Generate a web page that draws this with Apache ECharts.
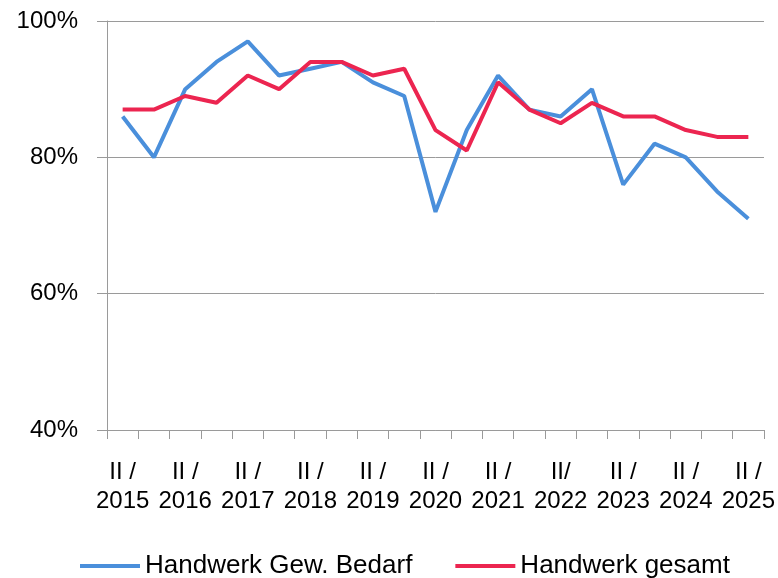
<!DOCTYPE html>
<html>
<head>
<meta charset="utf-8">
<script src="https://cdn.jsdelivr.net/npm/echarts@6/dist/echarts.min.js"></script>
<style>
  html, body { margin: 0; padding: 0; background: #fff; }
  #chart { width: 778px; height: 578px; }
</style>
</head>
<body>
<div id="chart"></div>
<script>
// Halbjahre II/2015 .. II/2025 (jeweils I und II)
var categories = [
    'II /\n2015', 'I /\n2016', 'II /\n2016', 'I /\n2017', 'II /\n2017',
    'I /\n2018', 'II /\n2018', 'I /\n2019', 'II /\n2019', 'I /\n2020',
    'II /\n2020', 'I /\n2021', 'II /\n2021', 'I /\n2022', 'II/\n2022',
    'I /\n2023', 'II /\n2023', 'I /\n2024', 'II /\n2024', 'I /\n2025',
    'II /\n2025'
];
var gewBedarf = [86, 80, 90, 94, 97, 92, 93, 94, 91, 89, 72, 84, 92, 87, 86, 90, 76, 82, 80, 75, 71];
var gesamt    = [87, 87, 89, 88, 92, 90, 94, 94, 92, 93, 84, 81, 91, 87, 85, 88, 86, 86, 84, 83, 83];
var yTicks = { min: 40, max: 100, interval: 20 };

var font = 'Liberation Sans, Arial, sans-serif';
var gridColor = '#9a9a9a';

var myChart = echarts.init(document.getElementById('chart'));
myChart.setOption({
    animation: false,
    grid: { left: 107, right: 12, top: 21, bottom: 148, containLabel: false },
    legend: {
        left: 75,
        top: 548,
        itemWidth: 60,
        itemHeight: 4,
        itemGap: 43,
        icon: 'rect',
        textStyle: { fontFamily: font, fontSize: 26, color: '#000' },
        data: ['Handwerk Gew. Bedarf', 'Handwerk gesamt']
    },
    xAxis: {
        type: 'category',
        data: categories,
        boundaryGap: true,
        axisLine: { lineStyle: { color: gridColor, width: 1 } },
        axisTick: { show: true, length: 9, interval: 0, lineStyle: { color: gridColor } },
        axisLabel: {
            interval: 1,
            margin: 28,
            fontFamily: font,
            fontSize: 24,
            lineHeight: 29,
            color: '#000'
        }
    },
    yAxis: {
        type: 'value',
        min: yTicks.min,
        max: yTicks.max,
        interval: yTicks.interval,
        axisLine: { show: true, lineStyle: { color: gridColor, width: 1 } },
        axisTick: { show: true, length: 10, lineStyle: { color: gridColor } },
        splitLine: { lineStyle: { color: gridColor, width: 1 } },
        axisLabel: {
            margin: 29,
            formatter: '{value}%',
            fontFamily: font,
            fontSize: 24,
            color: '#000'
        }
    },
    series: [
        {
            name: 'Handwerk Gew. Bedarf',
            type: 'line',
            data: gewBedarf,
            symbol: 'none',
            lineStyle: { color: '#4a8fdb', width: 4 },
            itemStyle: { color: '#4a8fdb' }
        },
        {
            name: 'Handwerk gesamt',
            type: 'line',
            data: gesamt,
            symbol: 'none',
            lineStyle: { color: '#ec2550', width: 4 },
            itemStyle: { color: '#ec2550' }
        }
    ]
});
</script>
</body>
</html>
